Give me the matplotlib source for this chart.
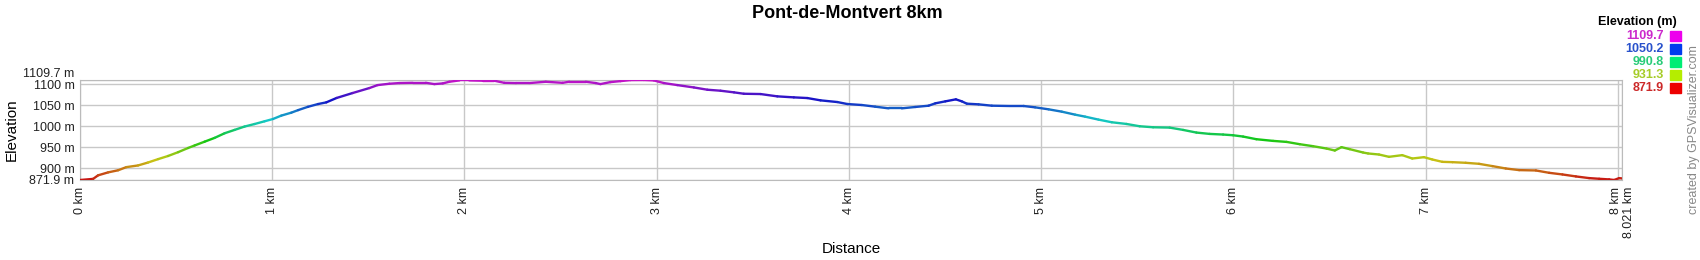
import numpy as np
import matplotlib
matplotlib.use("Agg")
import matplotlib.pyplot as plt
from matplotlib.collections import LineCollection
from matplotlib.colors import Normalize, ListedColormap, hsv_to_rgb
from matplotlib.patches import Rectangle
from matplotlib.transforms import ScaledTranslation

plt.rcParams['font.family'] = ['Liberation Sans', 'DejaVu Sans']

# ==============================
# data
# ==============================
dist_km = [0.000, 0.068, 0.094, 0.146, 0.198, 0.241, 0.302, 0.354, 0.406, 0.458,
           0.510, 0.562, 0.596, 0.648, 0.700, 0.752, 0.804, 0.856, 0.908, 0.960,
           1.004, 1.047, 1.099, 1.134, 1.186, 1.238, 1.281, 1.335, 1.418, 1.505,
           1.548, 1.609, 1.661, 1.730, 1.799, 1.843, 1.887, 1.921, 1.973, 2.025,
           2.094, 2.155, 2.207, 2.268, 2.337, 2.423, 2.510, 2.545, 2.631, 2.683,
           2.707, 2.759, 2.811, 2.863, 2.933, 2.985, 3.037, 3.107, 3.193, 3.263,
           3.332, 3.402, 3.453, 3.540, 3.627, 3.713, 3.783, 3.852, 3.939, 3.991,
           4.067, 4.136, 4.206, 4.275, 4.344, 4.414, 4.449, 4.501, 4.556, 4.587,
           4.613, 4.674, 4.743, 4.830, 4.908, 4.968, 5.038, 5.107, 5.176, 5.228,
           5.298, 5.367, 5.443, 5.512, 5.582, 5.668, 5.738, 5.807, 5.876, 5.946,
           5.998, 6.050, 6.119, 6.206, 6.276, 6.345, 6.414, 6.484, 6.527, 6.562,
           6.605, 6.674, 6.700, 6.757, 6.809, 6.878, 6.930, 6.991, 7.034, 7.086,
           7.139, 7.208, 7.277, 7.347, 7.416, 7.486, 7.573, 7.642, 7.711, 7.781,
           7.850, 7.902, 7.954, 7.980, 8.006, 8.021]
elev_m = [871.9, 874.5, 883.0, 890.0, 895.0, 902.5, 906.5, 913.5, 921.5, 929.0,
          938.0, 948.0, 954.0, 963.0, 972.0, 983.0, 991.0, 999.0, 1005.0, 1011.5,
          1017.0, 1025.0, 1032.0, 1038.0, 1046.0, 1052.5, 1056.5, 1067.0, 1078.7, 1090.5,
          1097.6, 1100.8, 1102.4, 1103.0, 1103.0, 1100.0, 1101.6, 1105.5, 1108.7, 1108.7,
          1108.0, 1108.0, 1103.0, 1102.4, 1102.4, 1105.5, 1103.0, 1105.5, 1105.5, 1102.4,
          1100.0, 1104.7, 1107.0, 1109.5, 1109.7, 1108.7, 1102.4, 1097.6, 1092.0, 1086.6,
          1084.2, 1080.3, 1077.0, 1076.3, 1070.8, 1068.4, 1066.8, 1061.3, 1057.3, 1052.6,
          1050.2, 1046.3, 1042.3, 1042.3, 1045.5, 1048.6, 1054.2, 1058.9, 1063.7, 1058.9,
          1053.4, 1051.8, 1048.6, 1047.9, 1047.9, 1044.7, 1040.0, 1034.4, 1027.3, 1022.6,
          1015.5, 1009.2, 1005.2, 999.7, 997.3, 996.5, 991.0, 984.7, 981.5, 980.0,
          978.3, 975.2, 968.9, 964.9, 962.5, 957.0, 952.3, 946.7, 942.0, 950.0,
          945.2, 937.3, 935.0, 932.5, 927.0, 931.0, 923.0, 926.2, 920.7, 915.1,
          914.3, 912.8, 910.4, 904.9, 899.3, 895.4, 894.6, 889.0, 885.1, 880.4,
          876.4, 874.8, 873.3, 871.9, 876.4, 875.6]

elev_min = 871.9
elev_max = 1109.7
legend_vals = [1109.7, 1050.2, 990.8, 931.3, 871.9]
ytick_vals = [871.9, 900, 950, 1000, 1050, 1100, 1109.7]
xtick_vals = [0, 1, 2, 3, 4, 5, 6, 7, 8, 8.021]

# ==============================
# colour scale: hue red -> magenta
# ==============================
hues = np.linspace(0, 300 / 360, 256)
def hue_cmap(s, v):
    hsv = np.column_stack([hues, np.full(256, s), np.full(256, v)])
    return ListedColormap(hsv_to_rgb(hsv))

line_cmap = hue_cmap(0.9, 0.78)
box_cmap = hue_cmap(1.0, 0.93)
text_cmap = hue_cmap(0.8, 0.8)
norm = Normalize(elev_min, elev_max)

W, H = 1700, 260
fig = plt.figure(figsize=(W / 100, H / 100), dpi=100)
ax = fig.add_axes([80 / W, 80 / H, 1542 / W, 100 / H])

x = np.array(dist_km)
y = np.array(elev_m)
pts = np.column_stack([x, y]).reshape(-1, 1, 2)
segs = np.concatenate([pts[:-1], pts[1:]], axis=1)
lc = LineCollection(segs, cmap=line_cmap, norm=norm, linewidths=1.7,
                    capstyle='round', joinstyle='round', zorder=3)
lc.set_array((y[:-1] + y[1:]) / 2)
ax.add_collection(lc)

ax.set_xlim(0, 8.021)
ax.set_ylim(elev_min, elev_max)

ax.set_yticks(ytick_vals)
ax.set_yticklabels([f'{v:g} m' for v in ytick_vals], fontsize=9, color='#222222')
ax.set_xticks(xtick_vals)
ax.set_xticklabels([f'{v:g} km' for v in xtick_vals], fontsize=9,
                   color='#222222', rotation=90)
ax.tick_params(axis='y', length=0, pad=4)
ax.tick_params(axis='x', length=0, pad=5)
ax.grid(True, color='#c8c8c8', lw=1)
for sp in ax.spines.values():
    sp.set_color('#bbbbbb')

# top y label sits above the frame, last two x labels split apart
ax.get_yticklabels()[-1].set_verticalalignment('bottom')
xl = ax.get_xticklabels()
xl[-2].set_transform(xl[-2].get_transform() + ScaledTranslation(-0.02, 0, fig.dpi_scale_trans))
xl[-1].set_transform(xl[-1].get_transform() + ScaledTranslation(0.07, 0, fig.dpi_scale_trans))

fig.text(847 / W, 1 - 13 / H, 'Pont-de-Montvert 8km', ha='center', va='center',
         fontsize=13, fontweight='bold')
fig.text(12 / W, 1 - 130 / H, 'Elevation', rotation=90, ha='center', va='center',
         fontsize=11)
fig.text(851 / W, 1 - 249 / H, 'Distance', ha='center', va='center', fontsize=11)

# colour key
fig.text(1677 / W, 1 - 22 / H, 'Elevation (m)', ha='right', va='center',
         fontsize=9, fontweight='bold')
for i, v in enumerate(legend_vals):
    yc = 35.7 + i * 13.1
    fig.text(1664 / W, 1 - yc / H, f'{v:.1f}', ha='right', va='center',
             fontsize=9, fontweight='bold', color=text_cmap(norm(v)))
    fig.patches.append(Rectangle((1670 / W, 1 - (yc + 5) / H), 10.5 / W, 10 / H,
                                 transform=fig.transFigure, color=box_cmap(norm(v))))

fig.text(1694 / W, 1 - 130 / H, 'created by GPSVisualizer.com', rotation=90,
         ha='center', va='center', fontsize=9, color='#888888')

fig.savefig('out.png', dpi=100)
